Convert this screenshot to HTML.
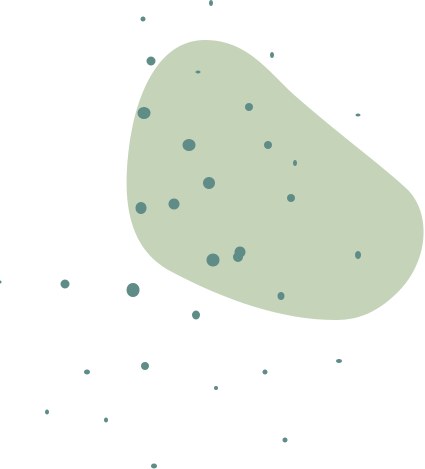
<!DOCTYPE html>
<html><head><meta charset="utf-8">
<style>html,body{margin:0;padding:0;background:#fff;width:425px;height:469px;overflow:hidden}</style>
</head><body>
<svg id="chart" width="425" height="469" viewBox="0 0 425 469" xmlns="http://www.w3.org/2000/svg">
<path fill="#c5d3b9" d="M205,40 C250,40 270,75 300,100 C340,135 385,168 408,190 C432,215 428,262 398,292 C372,318 350,320 335,320 C282,320 225,300 172,272 C125,248 122,195 130,140 C138,90 160,40 205,40 Z"/>
<g id="dots"></g>
</svg>
<script>
const dotX = [143,211,151,272,198,144,249,358,189,268,295,209,291,141,174,240,238,213,358,0,65,133,281,196,339,87,145,265,216,47,106,285,154];
const dotY = [19,3,61,55,72,113,107,115,145,145,163,183,198,208,204,252,257,260,255,282,284,290,296,315,361,372,366,372,388,412,420,440,466];
const dotRX = [2.5,2,4.5,2,2.5,6.5,4,2.5,6.5,4,2,6,4,5.5,5.5,5.5,5,6.5,3,1.5,4.5,6.5,3.5,4,3,3,4,2.5,2,2,2,2.5,3];
const dotRY = [2.5,3,4.5,3,1.5,6,4,1.5,6,4,3,6,4,6,5.5,5.5,5,6.5,4,1.5,4.5,7,4,4.5,2,2.5,4,2.5,2,2.5,2.5,2.5,2.5];
const g = document.getElementById('dots');
for (let i = 0; i < dotX.length; i++) {
  const e = document.createElementNS('http://www.w3.org/2000/svg', 'ellipse');
  e.setAttribute('cx', dotX[i]);
  e.setAttribute('cy', dotY[i]);
  e.setAttribute('rx', dotRX[i]);
  e.setAttribute('ry', dotRY[i]);
  e.setAttribute('fill', '#5f8c87');
  
  
  g.appendChild(e);
}
</script>
</body></html>
